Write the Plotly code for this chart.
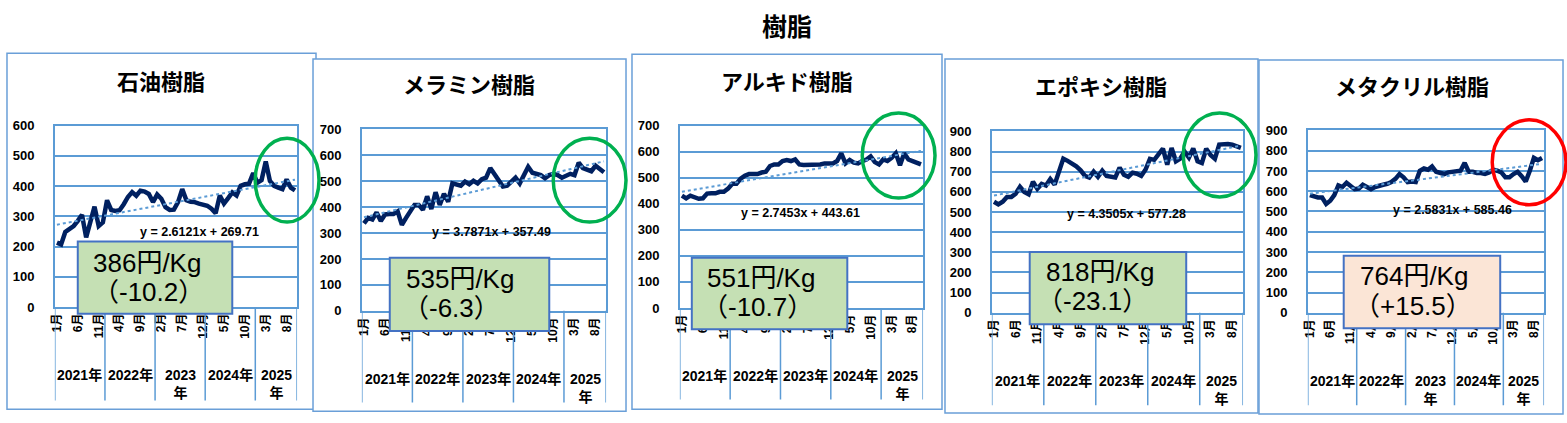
import plotly.graph_objects as go

W, H = 1567, 423

# ---- data -------------------------------------------------------------
names = ['石油樹脂', 'メラミン樹脂', 'アルキド樹脂', 'エポキシ樹脂', 'メタクリル樹脂']

tick_text = ['1月', '6月', '11月', '4月', '9月', '2月', '7月', '12月', '5月', '10月', '3月', '8月']
year_labels = ['2021年', '2022年', '2023年', '2024年', '2025年']
months_per_year = [12, 12, 12, 12, 10]

sekiyu = [213, 207, 248, 258, 268, 285, 305, 230, 280, 332, 268, 280,
          353, 321, 318, 320, 340, 364, 380, 368, 385, 382, 374, 347,
          372, 358, 330, 321, 322, 347, 390, 353, 348, 347, 342, 337,
          335, 325, 310, 369, 342, 360, 379, 369, 401, 406, 408, 443,
          411, 420, 481, 417, 401, 395, 390, 422, 395, 386]
melamine = [338, 359, 353, 380, 347, 372, 374, 374, 384, 332, 359, 384,
            409, 409, 390, 442, 393, 458, 409, 452, 421, 492, 489, 483,
            499, 489, 502, 492, 508, 514, 551, 527, 508, 480, 483, 496,
            514, 492, 527, 556, 533, 527, 524, 512, 524, 529, 524, 514,
            520, 529, 524, 572, 551, 545, 539, 560, 545, 535]
alkyd = [431, 421, 431, 425, 419, 421, 439, 440, 440, 446, 446, 458,
         477, 477, 496, 508, 514, 514, 514, 520, 523, 545, 551, 551,
         564, 568, 564, 570, 551, 549, 549, 549, 548, 551, 555, 555,
         555, 564, 594, 555, 568, 558, 555, 564, 570, 582, 560, 551,
         570, 564, 576, 594, 548, 594, 570, 564, 558, 551]
epoxy = [551, 538, 551, 575, 575, 591, 625, 600, 588, 650, 615, 639,
         631, 663, 636, 703, 765, 754, 743, 727, 707, 679, 671, 700,
         675, 705, 679, 675, 671, 720, 685, 675, 695, 690, 679, 711,
         764, 759, 783, 815, 735, 818, 752, 765, 800, 770, 815, 752,
         743, 814, 783, 764, 835, 839, 838, 834, 828, 818]
methacryl = [581, 573, 569, 569, 537, 553, 581, 629, 621, 642, 629, 610,
             613, 632, 621, 610, 621, 629, 632, 637, 645, 661, 685, 669,
             645, 648, 645, 701, 712, 706, 722, 696, 690, 685, 693, 696,
             696, 701, 740, 696, 696, 690, 690, 685, 693, 706, 701, 693,
             669, 669, 685, 696, 674, 648, 701, 765, 753, 764]
series = [sekiyu, melamine, alkyd, epoxy, methacryl]

slopes = [2.6121, 3.7871, 2.7453, 4.3505, 2.5831]
intercepts = [269.71, 357.49, 443.61, 577.28, 585.46]
y_max = [600, 700, 700, 900, 900]

prices = ['386円/Kg', '535円/Kg', '551円/Kg', '818円/Kg', '764円/Kg']
changes = ['（-10.2）', '（-6.3）', '（-10.7）', '（-23.1）', '（+15.5）']
wrap_years = [{'2023年', '2025年'}, {'2025年'}, {'2025年'}, {'2025年'}, {'2023年', '2025年'}]

# ---- layout geometry (pixels) ----------------------------------------
frames = [(2, 48, 312, 417), (309, 54, 623, 419), (629, 49, 940, 417),
          (943, 54, 1257, 421), (1258, 55, 1563, 422)]
plots = [(50, 123, 293, 311), (358, 127, 603, 315), (677, 123, 921, 312),
         (990, 129, 1242, 317), (1307, 128, 1544, 317)]
title_pos = [(157, 76), (465, 79), (785, 76), (1100, 81), (1412, 81)]
eq_pos = [(195, 233), (488, 233), (798, 214), (1125, 215), (1452, 210)]
boxes = [(73, 243, 228, 318), (386, 260, 546, 336), (689, 260, 845, 334),
         (1028, 254, 1185, 329), (1343, 258, 1500, 333)]
line1_pos = [(86, 265), (400, 282), (702, 281), (1042, 275), (1357, 279)]
line2_pos = [(86, 295), (397, 312), (697, 311), (1033, 305), (1351, 310)]
ellipses = [(251, 136, 315, 223), (550, 136, 623, 223), (860, 110, 933, 198),
            (1182, 110, 1255, 197), (1492, 117, 1566, 205)]
sep_bottom = [408, 410, 407, 413, 413]
box_fill = ['#C5E0B4', '#C5E0B4', '#C5E0B4', '#C5E0B4', '#FBE5D6']
ell_color = ['#00B050', '#00B050', '#00B050', '#00B050', '#FF0000']

GRID = '#5B9BD5'
FRAME = '#6A9FD8'
FONT = 'Liberation Sans, Arial, Noto Sans CJK JP'
CJK = 'Noto Sans CJK JP, Liberation Sans'


def px(x):
    return x / W


def py(y):
    return 1 - y / H


def label(x, y, text, font, xref='paper', xanchor='center'):
    return dict(x=x, y=py(y), xref=xref, yref='paper', text=text, showarrow=False,
                xanchor=xanchor, yanchor='middle', font=font)


fig = go.Figure()
shapes = []
annotations = []

# Overall title
annotations.append(label(px(785), 19, '樹脂', dict(family=CJK, size=25, color='black', weight='bold')))

for k in range(5):
    n = str(k + 1) if k else ''
    vals = series[k]
    x = list(range(len(vals)))
    trend = [slopes[k] * (i + 1) + intercepts[k] for i in x]

    # frame around each chart
    fx0, fy0, fx1, fy1 = frames[k]
    shapes.append(dict(type='rect', xref='paper', yref='paper', layer='below',
                       x0=px(fx0), x1=px(fx1), y0=py(fy1), y1=py(fy0),
                       line=dict(color=FRAME, width=1.5), fillcolor='white'))

    fig.add_trace(go.Scatter(x=x, y=vals, mode='lines', xaxis='x' + n, yaxis='y' + n,
                             line=dict(color='#002060', width=4.5), showlegend=False))
    fig.add_trace(go.Scatter(x=x, y=trend, mode='lines', xaxis='x' + n, yaxis='y' + n,
                             line=dict(color='#5B9BD5', width=2, dash='dot'), showlegend=False))

    x0, y0, x1, y1 = plots[k]
    fig.update_layout(**{
        'xaxis' + n: dict(domain=[px(x0), px(x1)], anchor='y' + n, range=[-0.5, len(vals) - 0.5],
                          tickmode='array', tickvals=list(range(0, len(vals), 5)), ticktext=tick_text,
                          tickangle=-90, showgrid=False, zeroline=False, showline=True, mirror=True,
                          linecolor=GRID, linewidth=1.5, ticks='',
                          tickfont=dict(family=FONT, size=12, color='black', weight='bold')),
        'yaxis' + n: dict(domain=[py(y1), py(y0)], anchor='x' + n, range=[0, y_max[k]], dtick=100,
                          showgrid=True, gridcolor=GRID, gridwidth=1.5, zeroline=False,
                          showline=True, mirror=True, linecolor=GRID, linewidth=1.5, ticks='',
                          ticklabelstandoff=16,
                          tickfont=dict(family=FONT, size=13, color='black', weight='bold')),
    })

    # year group separators and labels below the axis
    start = 0
    bounds = [-0.5]
    for yl, m in zip(year_labels, months_per_year):
        mid = start + m / 2 - 0.5
        wrapped = yl in wrap_years[k]
        txt = yl[:4] + '<br>' + yl[4:] if wrapped else yl
        annotations.append(label(mid, y1 + (80 if wrapped else 71), txt,
                                 dict(family=FONT, size=14, color='black', weight='bold'), xref='x' + n))
        start += m
        bounds.append(start - 0.5)
    for b in bounds:
        shapes.append(dict(type='line', xref='x' + n, yref='paper', x0=b, x1=b,
                           y0=py(y1), y1=py(sep_bottom[k]), line=dict(color=GRID, width=1.5)))

    # chart title
    tx, ty = title_pos[k]
    annotations.append(label(px(tx), ty, names[k], dict(family=CJK, size=22, color='black', weight='bold')))

    # trendline equation
    ex, ey = eq_pos[k]
    annotations.append(label(px(ex), ey, f'y = {slopes[k]}x + {intercepts[k]}',
                             dict(family=FONT, size=12.5, color='black', weight='bold')))

    # price callout box
    bx0, by0, bx1, by1 = boxes[k]
    shapes.append(dict(type='rect', xref='paper', yref='paper', layer='above',
                       x0=px(bx0), x1=px(bx1), y0=py(by1), y1=py(by0),
                       line=dict(color='#4472C4', width=2), fillcolor=box_fill[k]))
    for (lx, ly), txt in ((line1_pos[k], prices[k]), (line2_pos[k], changes[k])):
        annotations.append(label(px(lx), ly, txt, dict(family=FONT, size=26, color='black'),
                                 xanchor='left'))

    # highlight ellipse
    ex0, ey0, ex1, ey1 = ellipses[k]
    shapes.append(dict(type='circle', xref='paper', yref='paper', layer='above',
                       x0=px(ex0), x1=px(ex1), y0=py(ey1), y1=py(ey0),
                       line=dict(color=ell_color[k], width=3.5)))

fig.update_layout(width=W, height=H, margin=dict(l=0, r=0, t=0, b=0),
                  paper_bgcolor='white', plot_bgcolor='#DAE3F3',
                  shapes=shapes, annotations=annotations, showlegend=False)

# page body margin would shift the figure off the window
fig.write_html("out.html", config={'displayModeBar': False},
               post_script="document.body.style.margin = '0';")
